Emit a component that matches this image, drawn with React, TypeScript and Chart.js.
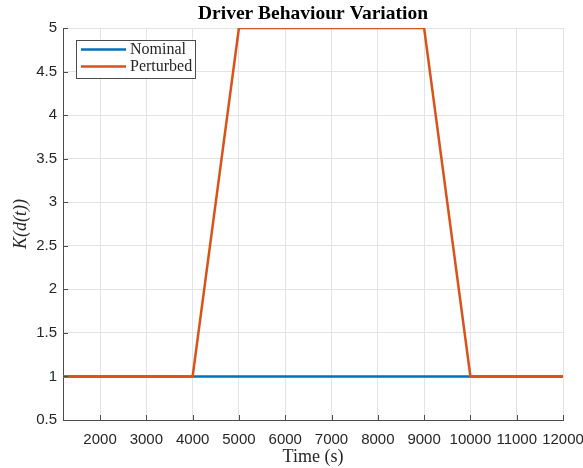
import React, { useEffect, useRef } from "react";
import { Chart, registerables } from "chart.js";

Chart.register(...registerables);

const timeValues = [1200, 4000, 5000, 9000, 10000, 12000];
const nominalValues = [1, 1, 1, 1, 1, 1];
const perturbedValues = [1, 1, 5, 5, 1, 1];
const xTickValues = [2000, 3000, 4000, 5000, 6000, 7000, 8000, 9000, 10000, 11000, 12000];
const yTickValues = [0.5, 1, 1.5, 2, 2.5, 3, 3.5, 4, 4.5, 5];
const seriesNames = ["Nominal", "Perturbed"];
const seriesColors = ["#0072BD", "#D95319"];
const chartTitle = "Driver Behaviour Variation";
const xTitle = "Time (s)";
const yTitle = "K(d(t))";

const SERIF = "'Liberation Serif', 'Times New Roman', serif";

const extrasPlugin = {
  id: "extras",
  afterDatasetsDraw(chart: any) {
    const ctx = chart.ctx;
    const area = chart.chartArea;
    const xs = chart.scales.x;
    const ys = chart.scales.y;
    ctx.save();
    // inward ticks
    ctx.strokeStyle = "#4d4d4d";
    ctx.lineWidth = 1;
    ctx.beginPath();
    xTickValues.forEach((v) => {
      const px = Math.round(xs.getPixelForValue(v)) + 0.5;
      ctx.moveTo(px, area.bottom);
      ctx.lineTo(px, area.bottom - 5);
    });
    yTickValues.forEach((v) => {
      const py = Math.round(ys.getPixelForValue(v)) + 0.5;
      ctx.moveTo(area.left, py);
      ctx.lineTo(area.left + 5, py);
    });
    ctx.stroke();

    // legend
    const lx = area.left + 13;
    const ly = area.top + 11.5;
    const lw = 119;
    const lh = 38;
    ctx.fillStyle = "#ffffff";
    ctx.fillRect(lx, ly, lw, lh);
    ctx.strokeStyle = "#4d4d4d";
    ctx.lineWidth = 1;
    ctx.strokeRect(Math.round(lx) + 0.5, Math.round(ly) + 0.5, lw, lh);
    ctx.font = "16px " + SERIF;
    ctx.textBaseline = "middle";
    ctx.textAlign = "left";
    seriesNames.forEach((name, i) => {
      const cy = ly + 10 + i * 17;
      ctx.strokeStyle = seriesColors[i];
      ctx.lineWidth = 2.5;
      ctx.beginPath();
      ctx.moveTo(lx + 5, cy);
      ctx.lineTo(lx + 50, cy);
      ctx.stroke();
      ctx.fillStyle = "#262626";
      ctx.fillText(name, lx + 54, cy);
    });

    // title
    ctx.font = "bold 19.5px " + SERIF;
    ctx.fillStyle = "#000000";
    ctx.textAlign = "center";
    ctx.textBaseline = "middle";
    ctx.fillText(chartTitle, (area.left + area.right) / 2, 14);
    ctx.restore();
  },
};

export default function App() {
  const canvasRef = useRef<HTMLCanvasElement | null>(null);

  useEffect(() => {
    if (!canvasRef.current) return;
    const chart = new Chart(canvasRef.current, {
      type: "line",
      data: {
        datasets: [
          {
            label: seriesNames[0],
            data: timeValues.map((t, i) => ({ x: t, y: nominalValues[i] })),
            borderColor: seriesColors[0],
            backgroundColor: seriesColors[0],
            borderWidth: 2.5,
            pointRadius: 0,
            tension: 0,
            order: 2,
          },
          {
            label: seriesNames[1],
            data: timeValues.map((t, i) => ({ x: t, y: perturbedValues[i] })),
            borderColor: seriesColors[1],
            backgroundColor: seriesColors[1],
            borderWidth: 2.5,
            pointRadius: 0,
            tension: 0,
            order: 1,
          },
        ],
      },
      options: {
        responsive: false,
        animation: false,
        layout: { padding: { top: 28, right: 20, left: 0, bottom: 0 } },
        plugins: {
          legend: { display: false },
          title: { display: false },
          tooltip: { enabled: false },
        },
        scales: {
          x: {
            type: "linear",
            min: 1200,
            max: 12000,
            afterFit: (s: any) => {
              s.height = 48;
              s.paddingLeft = 0;
              s.paddingRight = 0;
            },
            afterBuildTicks: (s: any) => {
              s.ticks = xTickValues.map((v) => ({ value: v }));
            },
            grid: { color: "#e3e3e3", drawTicks: false },
            border: { display: true, color: "#4d4d4d", width: 1 },
            ticks: {
              padding: 11,
              color: "#262626",
              font: { family: "'Liberation Sans', Arial, sans-serif", size: 15 },
              maxRotation: 0,
              autoSkip: false,
              callback: (v: any) => String(v),
            },
            title: {
              display: true,
              text: xTitle,
              color: "#262626",
              font: { family: SERIF, size: 18 },
              padding: { top: 0, bottom: 0 },
            },
          },
          y: {
            type: "linear",
            min: 0.5,
            max: 5,
            afterFit: (s: any) => {
              s.width = 63;
              s.paddingTop = 0;
              s.paddingBottom = 0;
            },
            afterBuildTicks: (s: any) => {
              s.ticks = yTickValues.map((v) => ({ value: v }));
            },
            grid: { color: "#e3e3e3", drawTicks: false },
            border: { display: true, color: "#4d4d4d", width: 1 },
            ticks: {
              padding: 6,
              color: "#262626",
              font: { family: "'Liberation Sans', Arial, sans-serif", size: 15 },
              autoSkip: false,
              callback: (v: any) => String(v),
            },
            title: {
              display: true,
              text: yTitle,
              color: "#262626",
              font: { family: SERIF, size: 18, style: "italic" },
              padding: { top: 10, bottom: 0 },
            },
          },
        },
      },
      plugins: [extrasPlugin],
    } as any);
    return () => chart.destroy();
  }, []);

  return (
    <div style={{ position: "fixed", left: 0, top: 0, width: 583, height: 468, background: "#fff" }}>
      <canvas ref={canvasRef} width={583} height={468} style={{ display: "block" }} />
    </div>
  );
}
